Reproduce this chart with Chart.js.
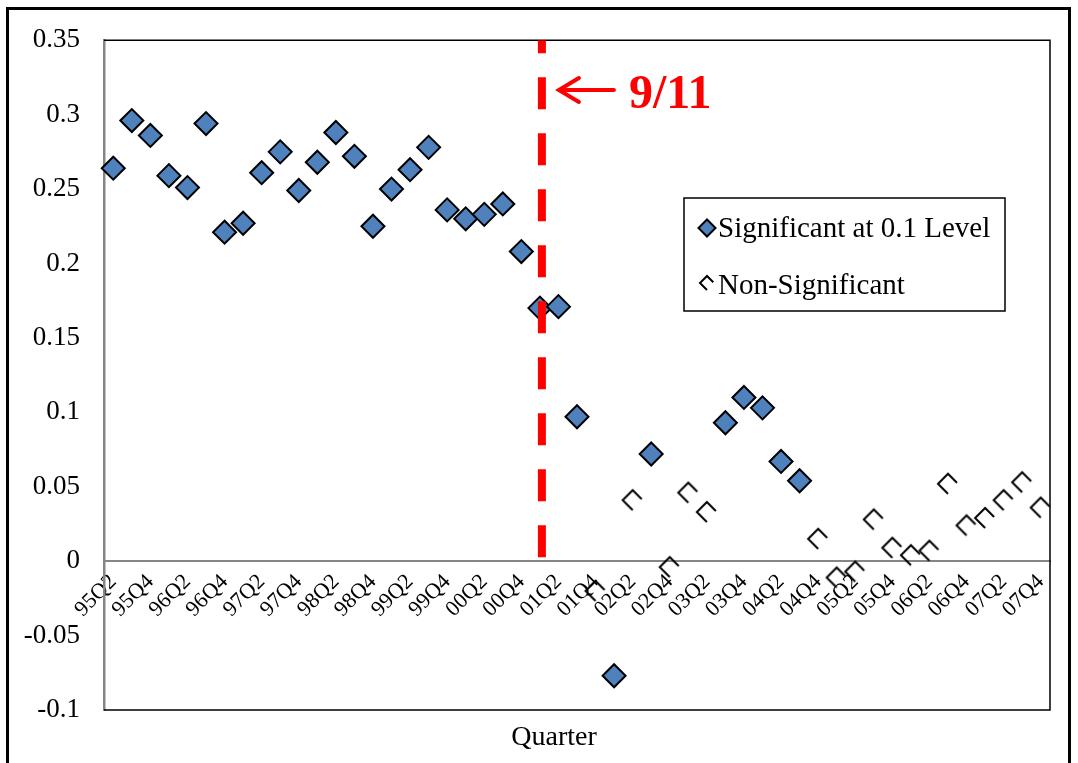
<!DOCTYPE html>
<html>
<head>
<meta charset="utf-8">
<style>
  html, body { margin: 0; padding: 0; background: #ffffff; }
  #wrap { position: relative; width: 1078px; height: 763px; }
</style>
<script src="https://cdn.jsdelivr.net/npm/chart.js@4.4.0/dist/chart.umd.min.js"></script>
</head>
<body>
<div id="wrap"><canvas id="c" width="1078" height="763"></canvas></div>
<script>
// ---------------- data ----------------
const quarters = [
  '95Q2','95Q3','95Q4','96Q1','96Q2','96Q3','96Q4','97Q1','97Q2','97Q3','97Q4',
  '98Q1','98Q2','98Q3','98Q4','99Q1','99Q2','99Q3','99Q4','00Q1','00Q2','00Q3','00Q4',
  '01Q1','01Q2','01Q3','01Q4','02Q1','02Q2','02Q3','02Q4','03Q1','03Q2','03Q3','03Q4',
  '04Q1','04Q2','04Q3','04Q4','05Q1','05Q2','05Q3','05Q4','06Q1','06Q2','06Q3','06Q4',
  '07Q1','07Q2','07Q3','07Q4'
];
const significant = [
  0.264, 0.296, 0.286, 0.259, 0.251, 0.294, 0.221, 0.227, 0.261, 0.275, 0.249,
  0.268, 0.288, 0.272, 0.225, 0.250, 0.263, 0.278, 0.236, 0.230, 0.233, 0.240, 0.208,
  0.170, 0.171, 0.097, null, -0.077, null, 0.072, null, null, null, 0.093, 0.110,
  0.103, 0.067, 0.054, null, null, null, null, null, null, null, null, null,
  null, null, null, null
];
const nonSignificant = [
  null, null, null, null, null, null, null, null, null, null, null,
  null, null, null, null, null, null, null, null, null, null, null, null,
  null, null, null, -0.020, null, 0.041, null, -0.004, 0.046, 0.033, null, null,
  null, null, null, 0.015, -0.011, -0.007, 0.028, 0.009, 0.004, 0.007, 0.052, 0.024,
  0.029, 0.041, 0.053, 0.036
];
const yTickValues = [0.35, 0.3, 0.25, 0.2, 0.15, 0.1, 0.05, 0, -0.05, -0.1];
const seriesNames = ['Significant at 0.1 Level', 'Non-Significant'];
const eventQuarter = '01Q1';
const eventLabel = '9/11';
const axisTitle = 'Quarter';

// ---------------- styles ----------------
const SERIF = '"Liberation Serif", "Times New Roman", serif';
const BLUE = '#4F81BD';

function openMarker(r, lw) {
  const s = Math.ceil(2 * r + 2 * lw + 2);
  const c = document.createElement('canvas');
  c.width = s; c.height = s;
  const g = c.getContext('2d');
  const m = s / 2;
  g.strokeStyle = '#000';
  g.lineWidth = lw;
  g.lineJoin = 'miter';
  g.beginPath();
  g.moveTo(m + r * 0.9, m - r * 0.1);
  g.lineTo(m, m - r);
  g.lineTo(m - r, m);
  g.lineTo(m, m + r);
  g.stroke();
  return c;
}
const openPt = openMarker(10, 2);
const openPtSmall = openMarker(7, 2);

const framePlugin = {
  id: 'frame',
  beforeDatasetsDraw(chart) {
    const { ctx, chartArea: a } = chart;
    ctx.save();
    ctx.strokeStyle = '#000';
    ctx.lineWidth = 1.5;
    ctx.beginPath();
    ctx.moveTo(a.left, a.top); ctx.lineTo(a.right, a.top);
    ctx.lineTo(a.right, a.bottom); ctx.lineTo(a.left, a.bottom);
    ctx.stroke();
    ctx.restore();
  },
  afterDraw(chart) {
    const { ctx, chartArea: a } = chart;
    ctx.save();
    ctx.fillStyle = '#000';
    ctx.font = '28px ' + SERIF;
    ctx.textAlign = 'center';
    ctx.textBaseline = 'middle';
    ctx.fillText(axisTitle, 554, a.bottom + 28);
    ctx.strokeStyle = '#000';
    ctx.lineWidth = 3;
    ctx.strokeRect(7.5, 8.5, 1062, 780);
    ctx.restore();
  }
};

const eventPlugin = {
  id: 'event',
  afterDatasetsDraw(chart) {
    const { ctx, chartArea: a, scales: { x, y } } = chart;
    const px = x.getPixelForValue(quarters.indexOf(eventQuarter)) + 2;
    ctx.save();
    ctx.beginPath();
    ctx.rect(a.left, a.top, a.right - a.left, a.bottom - a.top);
    ctx.clip();
    ctx.strokeStyle = '#FF0000';
    ctx.lineWidth = 8;
    ctx.setLineDash([32, 24]);
    ctx.lineDashOffset = 19;
    ctx.beginPath();
    ctx.moveTo(px, a.top);
    ctx.lineTo(px, y.getPixelForValue(0) - 4);
    ctx.stroke();
    ctx.restore();

    // arrow
    ctx.save();
    ctx.setLineDash([]);
    ctx.strokeStyle = '#FF0000';
    ctx.lineWidth = 4;
    ctx.lineCap = 'round';
    const ay = 90, ax0 = px + 17, ax1 = px + 72;
    ctx.beginPath();
    ctx.moveTo(ax0, ay); ctx.lineTo(ax1, ay);
    ctx.moveTo(ax0 + 20, ay - 12); ctx.lineTo(ax0, ay); ctx.lineTo(ax0 + 20, ay + 12);
    ctx.stroke();
    ctx.fillStyle = '#FF0000';
    ctx.font = 'bold 48px ' + SERIF;
    ctx.textBaseline = 'alphabetic';
    ctx.textAlign = 'left';
    ctx.fillText(eventLabel, px + 87, 108);
    ctx.restore();
  }
};

const legendPlugin = {
  id: 'customLegend',
  afterDraw(chart) {
    const { ctx } = chart;
    const bx = 684, by = 198, bw = 321, bh = 113;
    ctx.save();
    ctx.fillStyle = '#fff';
    ctx.fillRect(bx, by, bw, bh);
    ctx.strokeStyle = '#000';
    ctx.lineWidth = 1.5;
    ctx.strokeRect(bx, by, bw, bh);
    const mx = 707;
    ctx.beginPath();
    const r = 8.5, cy1 = 228;
    ctx.moveTo(mx - r, cy1); ctx.lineTo(mx, cy1 - r); ctx.lineTo(mx + r, cy1); ctx.lineTo(mx, cy1 + r); ctx.closePath();
    ctx.fillStyle = BLUE; ctx.fill();
    ctx.lineWidth = 2; ctx.strokeStyle = '#000'; ctx.stroke();
    const cy2 = 283;
    ctx.drawImage(openPtSmall, mx - openPtSmall.width / 2, cy2 - openPtSmall.height / 2);
    ctx.fillStyle = '#000';
    ctx.font = '29px ' + SERIF;
    ctx.textBaseline = 'middle';
    ctx.textAlign = 'left';
    ctx.fillText(seriesNames[0], 718, cy1 + 1);
    ctx.fillText(seriesNames[1], 718, cy2 + 3);
    ctx.restore();
  }
};

new Chart(document.getElementById('c'), {
  type: 'line',
  data: {
    labels: quarters,
    datasets: [
      {
        label: seriesNames[0],
        data: significant,
        showLine: false,
        pointStyle: 'rectRot',
        pointRadius: 11.5,
        pointHoverRadius: 11.5,
        pointBackgroundColor: BLUE,
        pointBorderColor: '#000',
        pointBorderWidth: 2,
        clip: false
      },
      {
        label: seriesNames[1],
        data: nonSignificant,
        showLine: false,
        pointStyle: openPt,
        pointRadius: 10,
        clip: false
      }
    ]
  },
  options: {
    responsive: false,
    devicePixelRatio: 1,
    animation: false,
    events: [],
    layout: { padding: { left: 0, right: 28, top: 40, bottom: 53 } },
    plugins: {
      legend: { display: false },
      tooltip: { enabled: false },
      title: { display: false }
    },
    scales: {
      x: {
        type: 'category',
        offset: true,
        position: { y: 0 },
        grid: { display: false, drawTicks: false },
        border: { display: true, color: '#868686', width: 2 },
        ticks: {
          autoSkip: false,
          minRotation: 45,
          maxRotation: 45,
          padding: 8,
          color: '#000',
          font: { family: SERIF, size: 22 },
          callback: (v, i) => (i % 2 === 0 ? quarters[i] : '')
        }
      },
      y: {
        type: 'linear',
        min: -0.1,
        max: 0.35,
        afterBuildTicks: (s) => { s.ticks = yTickValues.map(v => ({ value: v })); },
        afterFit: (s) => { s.width = 104; },
        grid: { display: false, drawTicks: false },
        border: { display: true, color: '#868686', width: 2.5 },
        ticks: {
          padding: 24,
          color: '#000',
          font: { family: SERIF, size: 27 },
          callback: (v) => String(+Number(v).toFixed(2))
        }
      }
    }
  },
  plugins: [framePlugin, eventPlugin, legendPlugin]
});
</script>
</body>
</html>
